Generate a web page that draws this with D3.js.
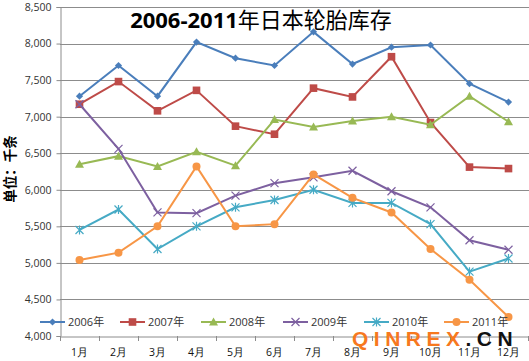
<!DOCTYPE html>
<html><head><meta charset="utf-8">
<script src="https://cdn.jsdelivr.net/npm/d3@7"></script>
<style>body{margin:0;background:#fff}svg{display:block}</style>
</head><body>
<script>
const months = ["1月","2月","3月","4月","5月","6月","7月","8月","9月","10月","11月","12月"];
const seriesNames = ["2006年","2007年","2008年","2009年","2010年","2011年"];
const s2006 = [7280,7700,7280,8020,7800,7700,8160,7720,7950,7980,7450,7200];
const s2007 = [7170,7480,7080,7360,6870,6760,7390,7270,7820,6920,6310,6290];
const s2008 = [6350,6460,6320,6520,6330,6960,6860,6940,7000,6890,7280,6930];
const s2009 = [7170,6560,5690,5680,5920,6090,6170,6260,5980,5760,5310,5180];
const s2010 = [5450,5730,5190,5500,5760,5860,6000,5820,5820,5530,4880,5060];
const s2011 = [5040,5140,5500,6320,5500,5530,6210,5890,5690,5190,4770,4260];
const yTicks = [4000,4500,5000,5500,6000,6500,7000,7500,8000,8500];
const titleParts = ["2006-2011","年日本轮胎库存"];
const yLabel = "单位：千条";

const seriesData = [s2006,s2007,s2008,s2009,s2010,s2011];
const colors = ["#4a7ebb","#be4b48","#98b954","#7d60a0","#46aac5","#f79646"];
const markers = ["diamond","square","triangle","cross","star","circle"];

const W=529,H=361;
const svg=d3.select("body").append("svg").attr("width",W).attr("height",H);
const L=60,R=528,T=7,B=336;
const x=d3.scaleBand().domain(months).range([L,R]);
const y=d3.scaleLinear().domain([4000,8500]).range([B,T]);

// gridlines
svg.append("g").selectAll("line").data(yTicks.filter(d=>d>4000)).join("line")
  .attr("x1",L).attr("x2",W).attr("y1",d=>Math.round(y(d))+0.5).attr("y2",d=>Math.round(y(d))+0.5)
  .attr("stroke","#8c8c8c").attr("stroke-width",1);

// y axis
const ya=svg.append("g").attr("transform",`translate(${L+0.5},0)`)
  .call(d3.axisLeft(y).tickValues(yTicks).tickFormat(d3.format(",")).tickSize(4).tickPadding(5));
ya.select(".domain").attr("stroke","#8c8c8c");
ya.selectAll(".tick line").attr("stroke","#8c8c8c");
ya.selectAll("text").attr("font-family","Open Sans, DejaVu Sans, sans-serif").attr("font-size",10.5).attr("fill","#333");

// x axis
const xa=svg.append("g").attr("transform",`translate(0,${B+0.5})`)
  .call(d3.axisBottom(x).tickSize(0).tickPadding(12));
xa.select(".domain").attr("stroke","#8c8c8c");
xa.selectAll("text").attr("font-family","Open Sans, DejaVu Sans, sans-serif").attr("font-size",10.5).attr("fill","#111");
svg.append("g").selectAll("line").data(d3.range(months.length+1)).join("line")
  .attr("x1",i=>Math.round(L+i*x.step())+0.5).attr("x2",i=>Math.round(L+i*x.step())+0.5)
  .attr("y1",B).attr("y2",B+5).attr("stroke","#8c8c8c");

const cx=m=>x(m)+x.bandwidth()/2;
function drawMarker(g,type,color,px,py){
  const s=3.6;
  if(type==="diamond") g.append("path").attr("d",`M${px},${py-s}L${px+s},${py}L${px},${py+s}L${px-s},${py}Z`).attr("fill",color);
  else if(type==="square") g.append("rect").attr("x",px-3.8).attr("y",py-3.8).attr("width",7.6).attr("height",7.6).attr("fill",color);
  else if(type==="triangle") g.append("path").attr("d",`M${px},${py-4.5}L${px+4.5},${py+3.5}L${px-4.5},${py+3.5}Z`).attr("fill",color);
  else if(type==="circle") g.append("circle").attr("cx",px).attr("cy",py).attr("r",4).attr("fill",color);
  else if(type==="cross") g.append("path").attr("d",`M${px-4},${py-4}L${px+4},${py+4}M${px-4},${py+4}L${px+4},${py-4}`).attr("stroke",color).attr("stroke-width",1.2);
  else if(type==="star") g.append("path").attr("d",`M${px-4},${py-4}L${px+4},${py+4}M${px-4},${py+4}L${px+4},${py-4}M${px},${py-4.5}L${px},${py+4.5}`).attr("stroke",color).attr("stroke-width",1.2);
}

const line=d3.line().x((d,i)=>cx(months[i])).y(d=>y(d));
seriesData.forEach((data,k)=>{
  const g=svg.append("g");
  g.append("path").datum(data).attr("d",line).attr("fill","none").attr("stroke",colors[k]).attr("stroke-width",2);
  data.forEach((v,i)=>drawMarker(g,markers[k],colors[k],cx(months[i]),y(v)));
});

// title
const tt=svg.append("text").attr("x",261).attr("y",28).attr("text-anchor","middle")
  .attr("font-family","Open Sans, Noto Sans CJK SC, sans-serif").attr("font-size",22).attr("fill","#000");
tt.append("tspan").attr("font-weight","bold").text(titleParts[0]);
tt.append("tspan").attr("font-family","Noto Sans CJK SC, sans-serif").attr("font-weight","normal").text(titleParts[1]);

// y label
svg.append("text").attr("transform","translate(15,169) rotate(-90)").attr("text-anchor","middle")
  .attr("font-family","Noto Sans CJK SC, sans-serif").attr("font-weight","bold").attr("font-size",13.5).attr("fill","#000").text(yLabel);

// legend
const legX=[40,120,201,283,364,444];
seriesNames.forEach((n,k)=>{
  const g=svg.append("g");
  const ly=322;
  g.append("line").attr("x1",legX[k]).attr("x2",legX[k]+25).attr("y1",ly).attr("y2",ly).attr("stroke",colors[k]).attr("stroke-width",2);
  drawMarker(g,markers[k],colors[k],legX[k]+12.5,ly);
  g.append("text").attr("x",legX[k]+28).attr("y",ly+4).attr("font-family","Open Sans, Noto Sans CJK SC, sans-serif").attr("font-size",11).attr("fill","#333").text(n);
});

// watermark
const wm=svg.append("text").attr("x",352).attr("y",346).attr("font-family","Liberation Sans, Arial, sans-serif").attr("font-weight","bold").attr("font-size",21).attr("letter-spacing",5.5);
wm.append("tspan").attr("fill","#f7781e").text("QINREX");
wm.append("tspan").attr("fill","#111").text(".CN");
</script>
</body></html>
